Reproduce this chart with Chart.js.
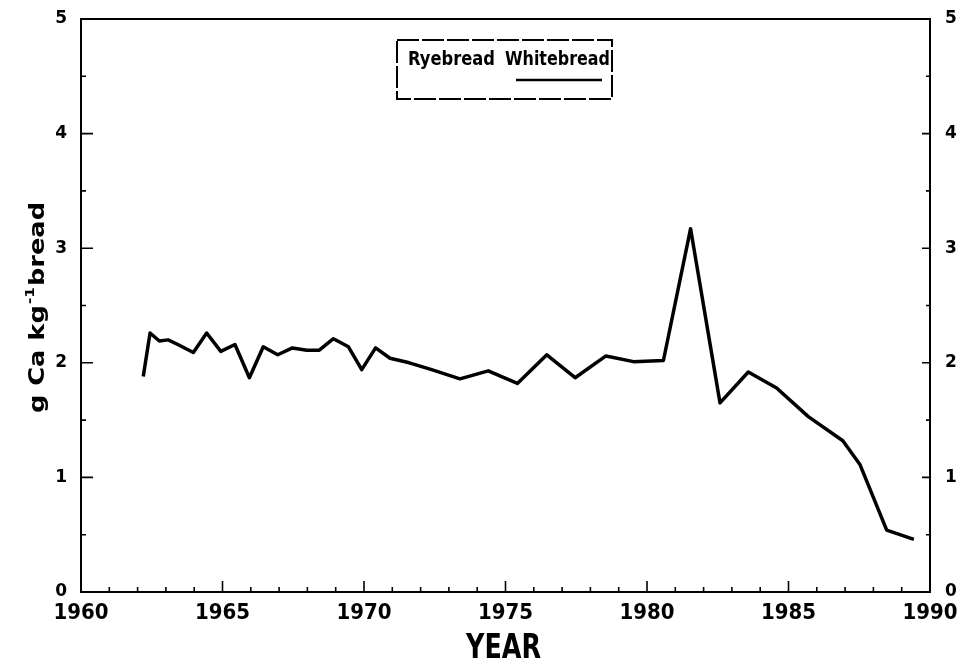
<!DOCTYPE html>
<html>
<head>
<meta charset="utf-8">
<script src="https://cdn.jsdelivr.net/npm/chart.js@4.4.0/dist/chart.umd.min.js"></script>
<style>
  html, body { margin: 0; padding: 0; background: #fff; }
  canvas { display: block; }
</style>
</head>
<body>
<canvas id="chart" width="960" height="668"></canvas>
<script>
// Calcium content of bread, g Ca per kg
const years = [
  1962.20, 1962.44, 1962.77, 1963.08, 1963.42, 1963.97, 1964.44, 1964.94,
  1965.44, 1965.95, 1966.44, 1966.95, 1967.47, 1967.98, 1968.42, 1968.92,
  1969.45, 1969.92, 1970.41, 1970.92, 1971.60, 1972.39, 1973.39, 1974.39,
  1975.42, 1976.46, 1977.46, 1978.55, 1979.52, 1980.58, 1981.54, 1982.58,
  1983.58, 1984.58, 1985.70, 1986.92, 1987.53, 1988.47, 1989.43
];
const whitebread = [
  1.88, 2.26, 2.19, 2.20, 2.16, 2.09, 2.26, 2.10,
  2.16, 1.87, 2.14, 2.07, 2.13, 2.11, 2.11, 2.21,
  2.14, 1.94, 2.13, 2.04, 2.00, 1.94, 1.86, 1.93,
  1.82, 2.07, 1.87, 2.06, 2.01, 2.02, 3.17, 1.65,
  1.92, 1.78, 1.53, 1.32, 1.11, 0.54, 0.46
];
const ryebread = [];

const yearTicks = [1960, 1965, 1970, 1975, 1980, 1985, 1990];
const valueTicks = [0, 1, 2, 3, 4, 5];

const NARROW = '"Liberation Sans Narrow", "DejaVu Sans Condensed", sans-serif';
const WIDE = '"DejaVu Sans", "Liberation Sans", sans-serif';

// draw text squeezed/stretched to a given width
function fitText(ctx, text, x, y, width) {
  const w = ctx.measureText(text).width;
  ctx.save();
  ctx.translate(x, y);
  ctx.scale(width / w, 1);
  ctx.fillText(text, 0, 0);
  ctx.restore();
}

const framePlugin = {
  id: 'frame',
  afterDraw(chart) {
    const ctx = chart.ctx;
    const a = chart.chartArea;
    const xs = chart.scales.x, ys = chart.scales.y;
    ctx.save();
    ctx.strokeStyle = '#000';
    ctx.fillStyle = '#000';
    ctx.lineWidth = 2;
    ctx.strokeRect(a.left, a.top, a.right - a.left, a.bottom - a.top);

    // inward tick marks
    ctx.lineWidth = 1.6;
    ctx.beginPath();
    for (let yr = xs.min; yr <= xs.max; yr++) {
      const px = xs.getPixelForValue(yr);
      const len = yearTicks.includes(yr) ? 11 : 5;
      ctx.moveTo(px, a.bottom);
      ctx.lineTo(px, a.bottom - len);
    }
    for (let v = ys.min; v <= ys.max; v += 0.5) {
      const py = ys.getPixelForValue(v);
      const major = valueTicks.includes(v);
      ctx.moveTo(a.left, py);
      ctx.lineTo(a.left + (major ? 12 : 5), py);
      ctx.moveTo(a.right, py);
      ctx.lineTo(a.right - (major ? 8 : 4), py);
    }
    ctx.stroke();

    // legend box
    ctx.lineWidth = 2;
    ctx.setLineDash([22, 3]);
    ctx.strokeRect(397, 40, 215, 59);
    ctx.setLineDash([]);
    ctx.font = 'bold 19px ' + WIDE;
    ctx.textBaseline = 'alphabetic';
    const names = chart.data.datasets.map(d => d.label);
    fitText(ctx, names[0], 408, 65, 87);
    fitText(ctx, names[1], 505, 65, 105);
    ctx.lineWidth = 2.5;
    ctx.beginPath();
    ctx.moveTo(516, 80);
    ctx.lineTo(602, 80);
    ctx.stroke();

    // x title
    ctx.font = 'bold 34px ' + NARROW;
    fitText(ctx, 'YEAR', 466, 658, 75);

    // y title, rotated
    ctx.save();
    ctx.translate(44, 413);
    ctx.rotate(-Math.PI / 2);
    ctx.font = 'bold 22px ' + WIDE;
    const p1 = 'g Ca kg', sup = '-1', p2 = 'bread';
    const w1 = ctx.measureText(p1).width, w3 = ctx.measureText(p2).width;
    ctx.font = 'bold 13px ' + WIDE;
    const w2 = ctx.measureText(sup).width + 2;
    const k = 211 / (w1 + w2 + w3);
    ctx.scale(k, 1);
    ctx.font = 'bold 22px ' + WIDE;
    ctx.fillText(p1, 0, 0);
    ctx.fillText(p2, w1 + w2, 0);
    ctx.font = 'bold 13px ' + WIDE;
    ctx.fillText(sup, w1 + 1, -10);
    ctx.restore();

    ctx.restore();
  }
};

const tickFontY = { family: WIDE, weight: 'bold', size: 17 };

// keep the plot frame fixed regardless of label overhang
function fitX(s) { s.height = 76; s.paddingLeft = 0; s.paddingRight = 0; }
function fitY(width) {
  return s => { s.width = width; s.paddingTop = 0; s.paddingBottom = 0; };
}

new Chart(document.getElementById('chart'), {
  type: 'line',
  data: {
    datasets: [
      { label: 'Ryebread', data: ryebread, borderColor: '#000', borderWidth: 3.5, pointRadius: 0 },
      {
        label: 'Whitebread',
        data: years.map((yr, i) => ({ x: yr, y: whitebread[i] })),
        borderColor: '#000',
        borderWidth: 3.5,
        pointRadius: 0,
        tension: 0,
        borderJoinStyle: 'round'
      }
    ]
  },
  options: {
    responsive: false,
    animation: false,
    devicePixelRatio: 1,
    layout: { padding: { top: 19, left: 0, right: 0, bottom: 0 } },
    plugins: { legend: { display: false }, tooltip: { enabled: false } },
    scales: {
      x: {
        type: 'linear',
        position: 'bottom',
        min: 1960,
        max: 1990,
        afterBuildTicks: s => { s.ticks = yearTicks.map(v => ({ value: v })); },
        afterFit: fitX,
        grid: { display: false, drawTicks: false },
        border: { display: false },
        ticks: {
          color: '#000',
          padding: 8,
          maxRotation: 0,
          autoSkip: false,
          font: { family: NARROW, weight: 'bold', size: 22 },
          callback: v => String(v)
        }
      },
      y: {
        position: 'left',
        min: 0,
        max: 5,
        afterBuildTicks: s => { s.ticks = valueTicks.map(v => ({ value: v })); },
        afterFit: fitY(81),
        grid: { display: false, drawTicks: false },
        border: { display: false },
        ticks: { color: '#000', padding: 14, font: tickFontY, callback: v => String(v) }
      },
      y2: {
        position: 'right',
        min: 0,
        max: 5,
        afterBuildTicks: s => { s.ticks = valueTicks.map(v => ({ value: v })); },
        afterFit: fitY(30),
        grid: { display: false, drawTicks: false },
        border: { display: false },
        ticks: { color: '#000', padding: 15, font: tickFontY, callback: v => String(v) }
      }
    }
  },
  plugins: [framePlugin]
});
</script>
</body>
</html>
